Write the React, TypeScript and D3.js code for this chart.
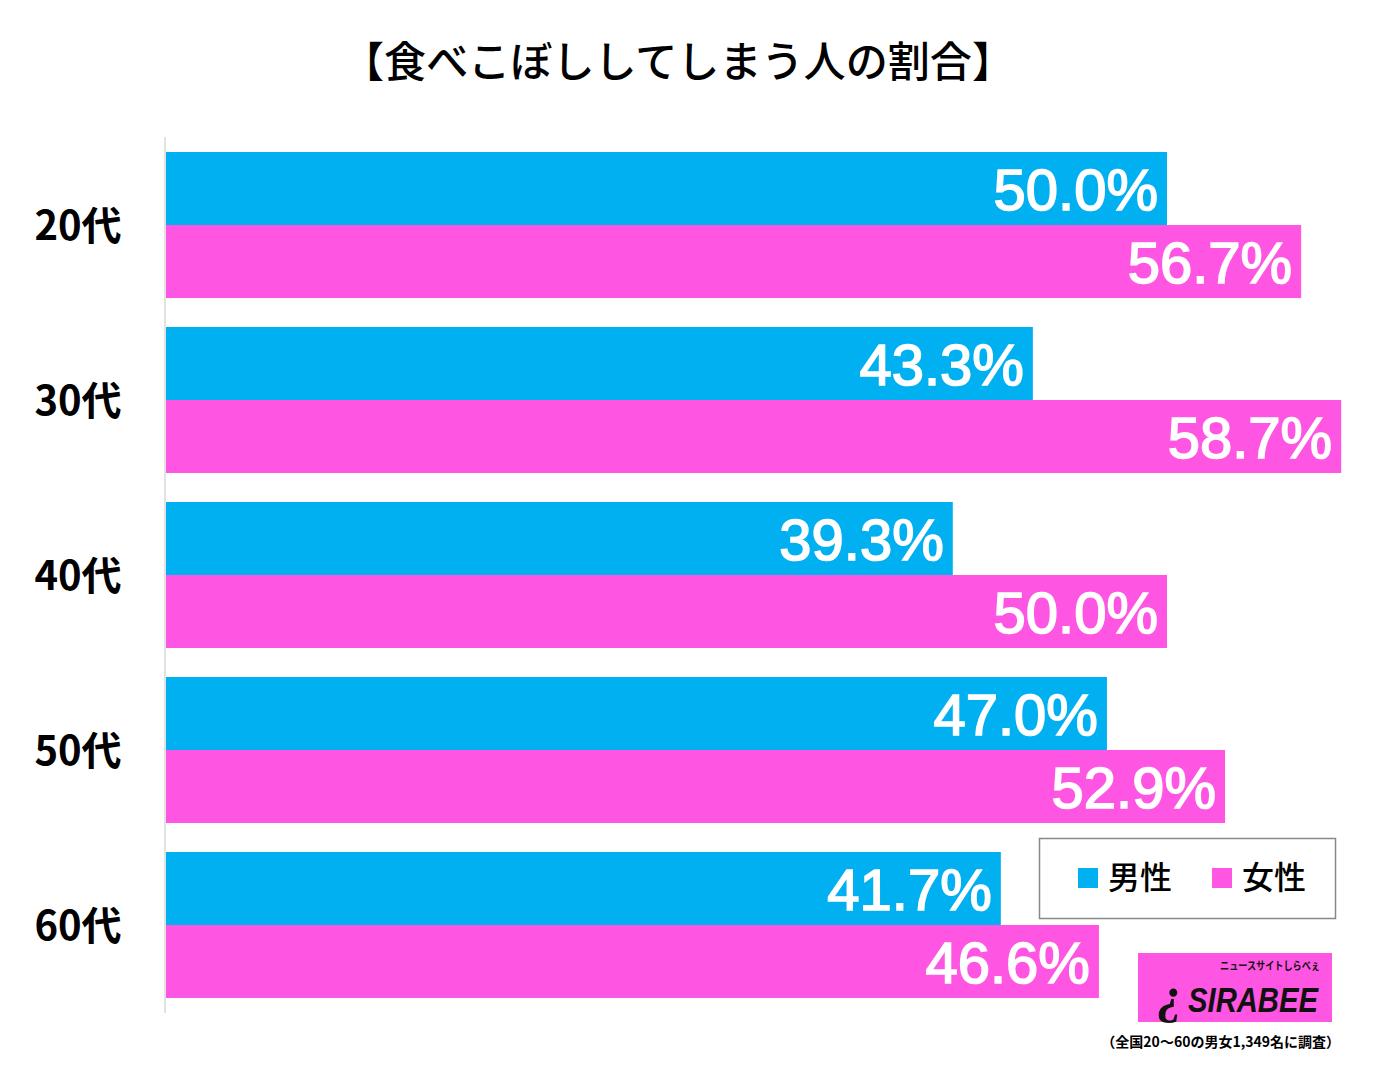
import React from "react";
import * as d3 from "d3";

const categories = ["20代", "30代", "40代", "50代", "60代"];
const series = ["男性", "女性"];
const male = [50.0, 43.3, 39.3, 47.0, 41.7];
const female = [56.7, 58.7, 50.0, 52.9, 46.6];
const colors = ["#00B0F0", "#FF55E3"];
const title = "【食べこぼししてしまう人の割合】";
const footnote = "（全国20～60の男女1,349名に調査）";

export default function App() {
  const W = 1375, H = 1065;
  const x0 = 166;
  const x = d3.scaleLinear().domain([0, 50]).range([x0, 1167]);
  const y = d3.scaleBand().domain(categories).range([137.5, 1012.5]).paddingInner(29 / 175).paddingOuter(14.5 / 175);
  const sub = d3.scaleBand().domain(series).range([0, y.bandwidth()]);
  const values = [male, female];
  const jp = "'Noto Sans CJK JP', 'Noto Sans', sans-serif";
  return (
    <svg width={W} height={H} style={{ position: "absolute", left: 0, top: 0, background: "#fff" }}>
      <rect width={W} height={H} fill="#fff" />
      <text x={678} y={77} textAnchor="middle" fontFamily={jp} fontWeight="500" fontSize={42} textLength={672} lengthAdjust="spacingAndGlyphs" fill="#000">{title}</text>
      <line x1={165} x2={165} y1={137} y2={1013} stroke="#d9d9d9" strokeWidth={1.5} />
      {categories.map((c, i) => (
        <g key={c}>
          <text x={78} y={(y(c) as number) + y.bandwidth() / 2 + 15} textAnchor="middle" fontFamily={jp} fontWeight="bold" fontSize={40} fill="#000">{c}</text>
          {series.map((s, j) => {
            const v = values[j][i];
            const by = (y(c) as number) + (sub(s) as number);
            return (
              <g key={s}>
                <rect x={x0} y={by} width={x(v) - x0} height={sub.bandwidth()} fill={colors[j]} />
                <text x={x(v) - 9} y={by + sub.bandwidth() / 2 + 21} textAnchor="end" fontFamily="'Liberation Sans', Arial, sans-serif" fontSize={58} fill="#fff" stroke="#fff" strokeWidth={1.6}>{v.toFixed(1)}%</text>
              </g>
            );
          })}
        </g>
      ))}
      <rect x={1039.5} y={838.5} width={296} height={80} fill="#fff" stroke="#888" strokeWidth={1.5} />
      {series.map((s, j) => (
        <g key={s}>
          <rect x={1078 + j * 134} y={868} width={20} height={20} fill={colors[j]} />
          <text x={1108 + j * 134} y={889} fontFamily={jp} fontWeight="500" fontSize={32} fill="#000">{s}</text>
        </g>
      ))}
      <rect x={1138} y={953} width={194} height={69} fill="#FF55E3" />
      <text x={1188} y={1012} fontFamily="'Liberation Sans', Arial, sans-serif" fontWeight="900" fontStyle="italic" fontSize={35} textLength={130} lengthAdjust="spacingAndGlyphs" fill="#111">SIRABEE</text>
      <text x={1220} y={970} fontFamily={jp} fontWeight="bold" fontSize={11} textLength={100} lengthAdjust="spacingAndGlyphs" fill="#111">ニュースサイトしらべぇ</text>
      <text x={1170} y={1012} textAnchor="middle" fontFamily="'Liberation Serif', serif" fontWeight="bold" fontStyle="italic" fontSize={50} fill="#111">¿</text>
      <text x={1340} y={1047} textAnchor="end" fontFamily={jp} fontWeight="bold" fontSize={14} fill="#000">{footnote}</text>
    </svg>
  );
}
